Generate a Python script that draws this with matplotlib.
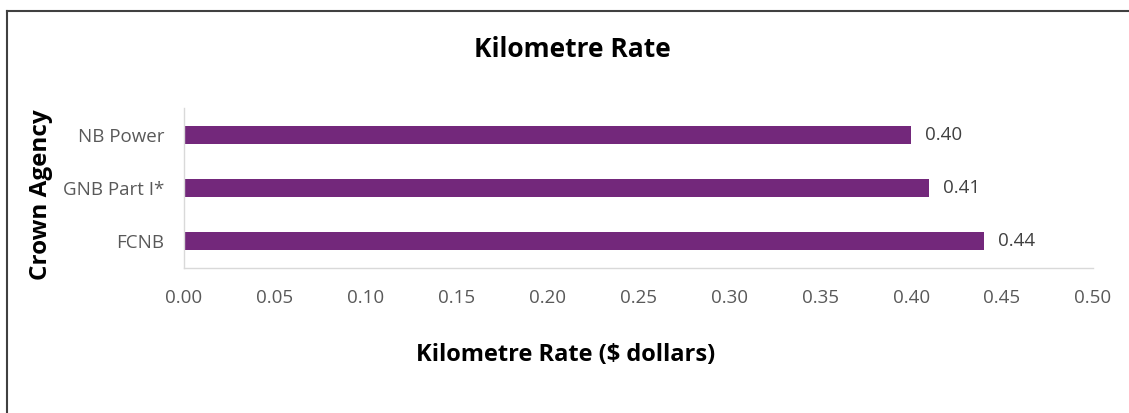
import matplotlib
matplotlib.use('Agg')
import matplotlib.pyplot as plt
from matplotlib.lines import Line2D

plt.rcParams['font.family'] = ['Open Sans', 'DejaVu Sans']

agencies = ['FCNB', 'GNB Part I*', 'NB Power']
rates = [0.44, 0.41, 0.40]
rate_labels = ['0.44', '0.41', '0.40']
x_ticks = [0.00, 0.05, 0.10, 0.15, 0.20, 0.25, 0.30, 0.35, 0.40, 0.45, 0.50]

BAR_COLOR = '#73287B'
TICK_COLOR = '#595959'
AXIS_COLOR = '#D9D9D9'

fig = plt.figure(figsize=(11.29, 4.13), dpi=100)
ax = fig.add_axes([0.163, 0.351, 0.805, 0.387])

ax.barh(range(len(agencies)), rates, height=0.34, color=BAR_COLOR)

for i, (v, lab) in enumerate(zip(rates, rate_labels)):
    ax.annotate(lab, (v, i), xytext=(10, 0), textcoords='offset points',
                va='center', ha='left', fontsize=13.5, color='#404040')

ax.set_xlim(0, 0.5)
ax.set_ylim(-0.5, 2.5)
ax.set_xticks(x_ticks)
ax.set_xticklabels([f'{t:.2f}' for t in x_ticks])
ax.set_yticks(range(len(agencies)))
ax.set_yticklabels(agencies)
ax.tick_params(length=0, labelsize=13.5, colors=TICK_COLOR)
ax.tick_params(axis='x', pad=15)
ax.tick_params(axis='y', pad=14)

for side in ['top', 'right']:
    ax.spines[side].set_visible(False)
for side in ['left', 'bottom']:
    ax.spines[side].set_color(AXIS_COLOR)
    ax.spines[side].set_linewidth(1)

fig.text(0.507, 0.879, 'Kilometre Rate', ha='center', va='center',
         fontsize=19, fontweight='bold', color='black')
fig.text(0.501, 0.14, 'Kilometre Rate ($ dollars)', ha='center', va='center',
         fontsize=17, fontweight='bold', color='black')
fig.text(0.036, 0.528, 'Crown Agency', ha='center', va='center', rotation=90,
         fontsize=17.5, fontweight='bold', color='black')

# frame lines on left and top, as in the source
fig.add_artist(Line2D([6.5 / 1129, 6.5 / 1129], [0, 1 - 10.5 / 413],
                      transform=fig.transFigure, color='#404040', linewidth=1.5))
fig.add_artist(Line2D([6.5 / 1129, 1], [1 - 10.5 / 413, 1 - 10.5 / 413],
                      transform=fig.transFigure, color='#404040', linewidth=1.5))

plt.savefig('out.png', dpi=100)
